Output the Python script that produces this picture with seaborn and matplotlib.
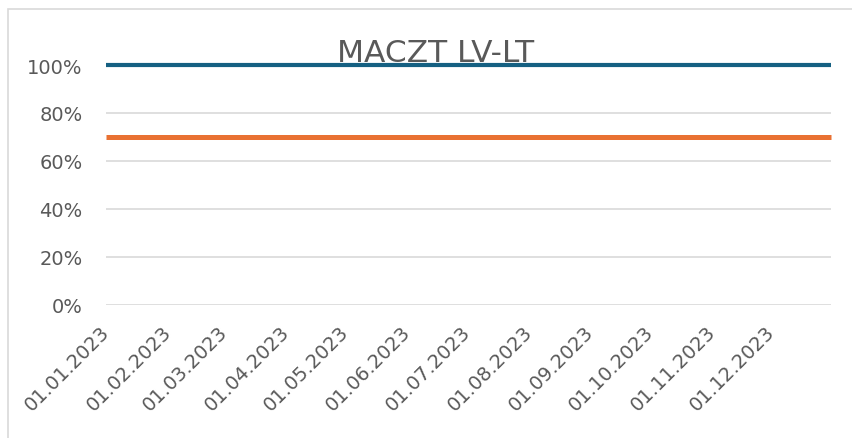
import matplotlib.pyplot as plt
import matplotlib.dates as mdates
import matplotlib.patches as mpatches
import matplotlib.ticker as mticker
import matplotlib.transforms as mtransforms
import seaborn as sns
import pandas as pd

# data
dates = ['2023-01-01', '2023-02-01', '2023-03-01', '2023-04-01', '2023-05-01', '2023-06-01',
         '2023-07-01', '2023-08-01', '2023-09-01', '2023-10-01', '2023-11-01', '2023-12-01',
         '2023-12-31']
series_top = [1.0] * len(dates)
series_bottom = [0.7] * len(dates)
tick_dates = dates[:-1]

dates = pd.to_datetime(dates)

sns.set_theme(style='white')
plt.rcParams['font.family'] = ['DejaVu Sans']

fig = plt.figure(figsize=(8.53, 4.39), dpi=100)
ax = fig.add_axes([106 / 853, 1 - 306 / 439, (831 - 106) / 853, (306 - 66) / 439])

# outer chart border
fig.patches.append(mpatches.Rectangle((8 / 853, -0.1), 1.2, 1 - 10 / 439 + 0.1,
                                      transform=fig.transFigure, fill=False,
                                      edgecolor='#d9d9d9', lw=1.2))

# title sits behind the lines
ax.text(0.455, 1.052, 'MACZT LV-LT', transform=ax.transAxes, ha='center', va='center',
        fontsize=22.5, color='#595959', zorder=1)

sns.lineplot(x=dates, y=series_top, ax=ax, color='#156082', lw=3, zorder=5, clip_on=False,
             solid_capstyle='butt')
sns.lineplot(x=dates, y=series_bottom, ax=ax, color='#E97132', lw=3.6, zorder=5, clip_on=False,
             solid_capstyle='butt')

ax.set_xlim(dates[0], dates[-1])
ax.set_ylim(0, 1)
ax.set_yticks([0, 0.2, 0.4, 0.6, 0.8, 1.0])
ax.yaxis.set_major_formatter(mticker.PercentFormatter(1.0, decimals=0))
ax.set_xticks(pd.to_datetime(tick_dates))
ax.xaxis.set_major_formatter(mdates.DateFormatter('%d.%m.%Y'))

ax.grid(axis='y', color='#d9d9d9', lw=1.2)
ax.set_axisbelow(True)
for s in ax.spines.values():
    s.set_visible(False)
ax.tick_params(axis='both', length=0, labelsize=14, labelcolor='#595959')
ax.tick_params(axis='y', pad=17)
ax.tick_params(axis='x', pad=12)
shift = mtransforms.ScaledTranslation(-6 / 100, 0, fig.dpi_scale_trans)
for lbl in ax.get_xticklabels():
    lbl.set_rotation(45)
    lbl.set_ha('right')
    lbl.set_rotation_mode('anchor')
    lbl.set_transform(lbl.get_transform() + shift)
ax.set_xlabel('')
ax.set_ylabel('')

fig.savefig('out.png', dpi=100)
